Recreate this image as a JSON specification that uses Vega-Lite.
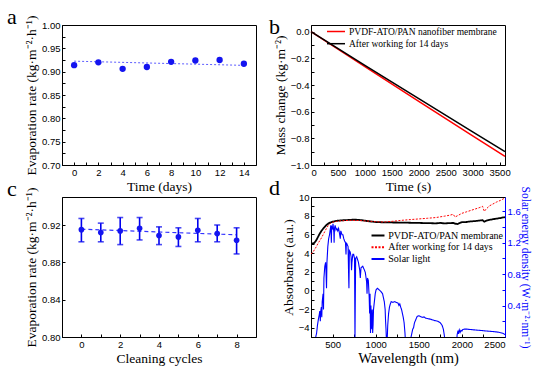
{
  "$schema": "https://vega.github.io/schema/vega-lite/v6.json",
  "background": "white",
  "padding": {"left": 6, "top": 5, "right": 5, "bottom": 5},
  "config": {
    "view": {"stroke": "black", "strokeWidth": 1},
    "axis": {"labelFont": "Liberation Sans", "labelFontSize": 9.5, "labelColor": "black", "titleFont": "Liberation Serif", "titleFontSize": 13.5, "titleFontWeight": "normal", "titleColor": "black", "domainColor": "black", "tickColor": "black", "tickSize": -3, "labelPadding": 5, "grid": false, "titlePadding": 3, "labelOverlap": false},
    "title": {"font": "Liberation Serif", "fontSize": 22, "fontWeight": "normal", "anchor": "start", "frame": "group", "offset": 0, "baseline": "alphabetic", "color": "black"},
    "legend": {"labelFont": "Liberation Serif", "labelColor": "black", "symbolType": "M-2,0H2", "padding": 0}
  },
  "datasets": {
    "aPts": [
      {"day": 0, "rate": 0.914}, {"day": 2, "rate": 0.920}, {"day": 4, "rate": 0.906}, {"day": 6, "rate": 0.910},
      {"day": 8, "rate": 0.921}, {"day": 10, "rate": 0.924}, {"day": 12, "rate": 0.925}, {"day": 14, "rate": 0.917}
    ],
    "aFit": [{"day": 0, "rate": 0.9225}, {"day": 14, "rate": 0.9135}],
    "bMass": [
      {"t": 0, "m": 0, "s": "PVDF-ATO/PAN nanofiber membrane"},
      {"t": 1000, "m": -0.262, "s": "PVDF-ATO/PAN nanofiber membrane"},
      {"t": 2000, "m": -0.522, "s": "PVDF-ATO/PAN nanofiber membrane"},
      {"t": 3000, "m": -0.781, "s": "PVDF-ATO/PAN nanofiber membrane"},
      {"t": 3600, "m": -0.935, "s": "PVDF-ATO/PAN nanofiber membrane"},
      {"t": 0, "m": 0, "s": "After working for 14 days"},
      {"t": 1000, "m": -0.252, "s": "After working for 14 days"},
      {"t": 2000, "m": -0.503, "s": "After working for 14 days"},
      {"t": 3000, "m": -0.752, "s": "After working for 14 days"},
      {"t": 3600, "m": -0.900, "s": "After working for 14 days"}
    ],
    "cPts": [
      {"cycle": 0, "rate": 0.915, "lo": 0.902, "hi": 0.927},
      {"cycle": 1, "rate": 0.912, "lo": 0.902, "hi": 0.922},
      {"cycle": 2, "rate": 0.9137, "lo": 0.899, "hi": 0.928},
      {"cycle": 3, "rate": 0.9164, "lo": 0.904, "hi": 0.928},
      {"cycle": 4, "rate": 0.9087, "lo": 0.899, "hi": 0.918},
      {"cycle": 5, "rate": 0.9072, "lo": 0.897, "hi": 0.917},
      {"cycle": 6, "rate": 0.9144, "lo": 0.902, "hi": 0.927},
      {"cycle": 7, "rate": 0.9108, "lo": 0.902, "hi": 0.920},
      {"cycle": 8, "rate": 0.9037, "lo": 0.889, "hi": 0.917}
    ],
    "cFit": [{"cycle": 0, "rate": 0.9155}, {"cycle": 8, "rate": 0.9095}],
    "dAbs": [
      {"wl": 250, "v": 5.05, "s": "PVDF-ATO/PAN  membrane"}, {"wl": 270, "v": 5.0, "s": "PVDF-ATO/PAN  membrane"},
      {"wl": 290, "v": 5.1, "s": "PVDF-ATO/PAN  membrane"}, {"wl": 310, "v": 5.35, "s": "PVDF-ATO/PAN  membrane"},
      {"wl": 330, "v": 5.7, "s": "PVDF-ATO/PAN  membrane"}, {"wl": 350, "v": 6.05, "s": "PVDF-ATO/PAN  membrane"},
      {"wl": 370, "v": 6.35, "s": "PVDF-ATO/PAN  membrane"}, {"wl": 390, "v": 6.6, "s": "PVDF-ATO/PAN  membrane"},
      {"wl": 410, "v": 6.8, "s": "PVDF-ATO/PAN  membrane"}, {"wl": 430, "v": 7.0, "s": "PVDF-ATO/PAN  membrane"},
      {"wl": 450, "v": 7.15, "s": "PVDF-ATO/PAN  membrane"}, {"wl": 470, "v": 7.25, "s": "PVDF-ATO/PAN  membrane"},
      {"wl": 500, "v": 7.35, "s": "PVDF-ATO/PAN  membrane"}, {"wl": 550, "v": 7.45, "s": "PVDF-ATO/PAN  membrane"},
      {"wl": 600, "v": 7.5, "s": "PVDF-ATO/PAN  membrane"}, {"wl": 650, "v": 7.52, "s": "PVDF-ATO/PAN  membrane"},
      {"wl": 700, "v": 7.55, "s": "PVDF-ATO/PAN  membrane"}, {"wl": 750, "v": 7.57, "s": "PVDF-ATO/PAN  membrane"},
      {"wl": 800, "v": 7.55, "s": "PVDF-ATO/PAN  membrane"}, {"wl": 850, "v": 7.5, "s": "PVDF-ATO/PAN  membrane"},
      {"wl": 900, "v": 7.43, "s": "PVDF-ATO/PAN  membrane"}, {"wl": 950, "v": 7.37, "s": "PVDF-ATO/PAN  membrane"},
      {"wl": 1000, "v": 7.32, "s": "PVDF-ATO/PAN  membrane"}, {"wl": 1100, "v": 7.28, "s": "PVDF-ATO/PAN  membrane"},
      {"wl": 1200, "v": 7.27, "s": "PVDF-ATO/PAN  membrane"}, {"wl": 1300, "v": 7.26, "s": "PVDF-ATO/PAN  membrane"},
      {"wl": 1400, "v": 7.24, "s": "PVDF-ATO/PAN  membrane"}, {"wl": 1500, "v": 7.22, "s": "PVDF-ATO/PAN  membrane"},
      {"wl": 1600, "v": 7.2, "s": "PVDF-ATO/PAN  membrane"}, {"wl": 1700, "v": 7.18, "s": "PVDF-ATO/PAN  membrane"},
      {"wl": 1750, "v": 7.22, "s": "PVDF-ATO/PAN  membrane"}, {"wl": 1800, "v": 7.17, "s": "PVDF-ATO/PAN  membrane"},
      {"wl": 1850, "v": 7.2, "s": "PVDF-ATO/PAN  membrane"}, {"wl": 1900, "v": 7.22, "s": "PVDF-ATO/PAN  membrane"},
      {"wl": 1920, "v": 7.15, "s": "PVDF-ATO/PAN  membrane"}, {"wl": 1950, "v": 7.1, "s": "PVDF-ATO/PAN  membrane"},
      {"wl": 1970, "v": 7.2, "s": "PVDF-ATO/PAN  membrane"}, {"wl": 2000, "v": 7.3, "s": "PVDF-ATO/PAN  membrane"},
      {"wl": 2050, "v": 7.32, "s": "PVDF-ATO/PAN  membrane"}, {"wl": 2100, "v": 7.38, "s": "PVDF-ATO/PAN  membrane"},
      {"wl": 2150, "v": 7.42, "s": "PVDF-ATO/PAN  membrane"}, {"wl": 2200, "v": 7.47, "s": "PVDF-ATO/PAN  membrane"},
      {"wl": 2240, "v": 7.52, "s": "PVDF-ATO/PAN  membrane"}, {"wl": 2260, "v": 7.35, "s": "PVDF-ATO/PAN  membrane"},
      {"wl": 2280, "v": 7.45, "s": "PVDF-ATO/PAN  membrane"}, {"wl": 2320, "v": 7.55, "s": "PVDF-ATO/PAN  membrane"},
      {"wl": 2360, "v": 7.62, "s": "PVDF-ATO/PAN  membrane"}, {"wl": 2400, "v": 7.68, "s": "PVDF-ATO/PAN  membrane"},
      {"wl": 2450, "v": 7.75, "s": "PVDF-ATO/PAN  membrane"}, {"wl": 2500, "v": 7.85, "s": "PVDF-ATO/PAN  membrane"},
      {"wl": 250, "v": 3.9, "s": "After working for 14 days"}, {"wl": 270, "v": 4.05, "s": "After working for 14 days"},
      {"wl": 290, "v": 4.35, "s": "After working for 14 days"}, {"wl": 310, "v": 4.65, "s": "After working for 14 days"},
      {"wl": 330, "v": 5.0, "s": "After working for 14 days"}, {"wl": 350, "v": 5.3, "s": "After working for 14 days"},
      {"wl": 370, "v": 5.6, "s": "After working for 14 days"}, {"wl": 390, "v": 5.95, "s": "After working for 14 days"},
      {"wl": 410, "v": 6.3, "s": "After working for 14 days"}, {"wl": 430, "v": 6.65, "s": "After working for 14 days"},
      {"wl": 450, "v": 6.95, "s": "After working for 14 days"}, {"wl": 470, "v": 7.15, "s": "After working for 14 days"},
      {"wl": 500, "v": 7.3, "s": "After working for 14 days"}, {"wl": 550, "v": 7.4, "s": "After working for 14 days"},
      {"wl": 600, "v": 7.45, "s": "After working for 14 days"}, {"wl": 700, "v": 7.5, "s": "After working for 14 days"},
      {"wl": 800, "v": 7.48, "s": "After working for 14 days"}, {"wl": 900, "v": 7.43, "s": "After working for 14 days"},
      {"wl": 1000, "v": 7.35, "s": "After working for 14 days"}, {"wl": 1100, "v": 7.32, "s": "After working for 14 days"},
      {"wl": 1200, "v": 7.4, "s": "After working for 14 days"}, {"wl": 1300, "v": 7.5, "s": "After working for 14 days"},
      {"wl": 1400, "v": 7.58, "s": "After working for 14 days"}, {"wl": 1500, "v": 7.65, "s": "After working for 14 days"},
      {"wl": 1600, "v": 7.72, "s": "After working for 14 days"}, {"wl": 1700, "v": 7.8, "s": "After working for 14 days"},
      {"wl": 1800, "v": 7.95, "s": "After working for 14 days"}, {"wl": 1860, "v": 8.05, "s": "After working for 14 days"},
      {"wl": 1900, "v": 8.15, "s": "After working for 14 days"}, {"wl": 1920, "v": 7.85, "s": "After working for 14 days"},
      {"wl": 1950, "v": 8.0, "s": "After working for 14 days"}, {"wl": 2000, "v": 8.25, "s": "After working for 14 days"},
      {"wl": 2050, "v": 8.4, "s": "After working for 14 days"}, {"wl": 2100, "v": 8.55, "s": "After working for 14 days"},
      {"wl": 2150, "v": 8.7, "s": "After working for 14 days"}, {"wl": 2200, "v": 8.85, "s": "After working for 14 days"},
      {"wl": 2240, "v": 9.0, "s": "After working for 14 days"}, {"wl": 2260, "v": 8.45, "s": "After working for 14 days"},
      {"wl": 2280, "v": 8.7, "s": "After working for 14 days"}, {"wl": 2320, "v": 9.05, "s": "After working for 14 days"},
      {"wl": 2360, "v": 9.25, "s": "After working for 14 days"}, {"wl": 2400, "v": 9.45, "s": "After working for 14 days"},
      {"wl": 2450, "v": 9.65, "s": "After working for 14 days"}, {"wl": 2500, "v": 9.9, "s": "After working for 14 days"}
    ],
    "dSolar": [
      {"wl": 300, "e": -0.05}, {"wl": 305, "e": 0.0}, {"wl": 315, "e": 0.05}, {"wl": 325, "e": 0.15}, {"wl": 335, "e": 0.22},
      {"wl": 345, "e": 0.28}, {"wl": 352, "e": 0.33}, {"wl": 358, "e": 0.2}, {"wl": 362, "e": 0.32}, {"wl": 370, "e": 0.38},
      {"wl": 375, "e": 0.25}, {"wl": 380, "e": 0.45}, {"wl": 390, "e": 0.55}, {"wl": 395, "e": 0.35}, {"wl": 400, "e": 0.75},
      {"wl": 410, "e": 0.9}, {"wl": 420, "e": 0.95}, {"wl": 425, "e": 0.8}, {"wl": 430, "e": 0.62}, {"wl": 435, "e": 0.95},
      {"wl": 445, "e": 1.15}, {"wl": 455, "e": 1.25}, {"wl": 465, "e": 1.3}, {"wl": 475, "e": 1.38}, {"wl": 480, "e": 1.42},
      {"wl": 486, "e": 1.2}, {"wl": 490, "e": 1.4}, {"wl": 500, "e": 1.38}, {"wl": 505, "e": 1.44}, {"wl": 515, "e": 1.33},
      {"wl": 518, "e": 1.2}, {"wl": 522, "e": 1.38}, {"wl": 530, "e": 1.42}, {"wl": 540, "e": 1.36}, {"wl": 550, "e": 1.38},
      {"wl": 560, "e": 1.35}, {"wl": 570, "e": 1.38}, {"wl": 580, "e": 1.32}, {"wl": 590, "e": 1.25}, {"wl": 595, "e": 1.35},
      {"wl": 610, "e": 1.3}, {"wl": 620, "e": 1.3}, {"wl": 630, "e": 1.25}, {"wl": 640, "e": 1.22}, {"wl": 650, "e": 1.2},
      {"wl": 656, "e": 1.05}, {"wl": 660, "e": 1.2}, {"wl": 680, "e": 1.15}, {"wl": 687, "e": 0.75}, {"wl": 690, "e": 0.62},
      {"wl": 695, "e": 1.1}, {"wl": 705, "e": 1.08}, {"wl": 715, "e": 1.02}, {"wl": 720, "e": 0.85}, {"wl": 725, "e": 0.95},
      {"wl": 735, "e": 1.05}, {"wl": 745, "e": 1.05}, {"wl": 755, "e": 1.0}, {"wl": 760, "e": -0.05}, {"wl": 763, "e": 0.4},
      {"wl": 768, "e": 1.0}, {"wl": 780, "e": 1.02}, {"wl": 800, "e": 0.95}, {"wl": 815, "e": 0.85}, {"wl": 822, "e": 0.75},
      {"wl": 830, "e": 0.88}, {"wl": 850, "e": 0.9}, {"wl": 870, "e": 0.85}, {"wl": 880, "e": 0.82}, {"wl": 895, "e": 0.7},
      {"wl": 900, "e": 0.55}, {"wl": 905, "e": 0.75}, {"wl": 915, "e": 0.72}, {"wl": 925, "e": 0.5}, {"wl": 930, "e": 0.3},
      {"wl": 935, "e": 0.55}, {"wl": 940, "e": 0.05}, {"wl": 945, "e": 0.4}, {"wl": 950, "e": 0.1}, {"wl": 955, "e": 0.2},
      {"wl": 960, "e": 0.35}, {"wl": 965, "e": 0.05}, {"wl": 970, "e": 0.15}, {"wl": 975, "e": 0.35}, {"wl": 985, "e": 0.45},
      {"wl": 995, "e": 0.55}, {"wl": 1005, "e": 0.6}, {"wl": 1020, "e": 0.62}, {"wl": 1040, "e": 0.6}, {"wl": 1060, "e": 0.58},
      {"wl": 1080, "e": 0.55}, {"wl": 1090, "e": 0.5}, {"wl": 1100, "e": 0.45}, {"wl": 1110, "e": 0.35}, {"wl": 1115, "e": 0.2},
      {"wl": 1120, "e": 0.1}, {"wl": 1125, "e": -0.05}, {"wl": 1135, "e": 0.0}, {"wl": 1140, "e": 0.15}, {"wl": 1150, "e": 0.3},
      {"wl": 1160, "e": 0.38}, {"wl": 1170, "e": 0.42}, {"wl": 1180, "e": 0.45}, {"wl": 1200, "e": 0.44}, {"wl": 1220, "e": 0.45},
      {"wl": 1240, "e": 0.44}, {"wl": 1260, "e": 0.43}, {"wl": 1270, "e": 0.4}, {"wl": 1280, "e": 0.42}, {"wl": 1290, "e": 0.38},
      {"wl": 1300, "e": 0.35}, {"wl": 1310, "e": 0.3}, {"wl": 1320, "e": 0.25}, {"wl": 1330, "e": 0.18}, {"wl": 1340, "e": 0.05},
      {"wl": 1345, "e": -0.05}, {"wl": 1400, "e": -0.05}, {"wl": 1410, "e": 0.0}, {"wl": 1420, "e": 0.05}, {"wl": 1430, "e": 0.1},
      {"wl": 1440, "e": 0.12}, {"wl": 1450, "e": 0.18}, {"wl": 1465, "e": 0.22}, {"wl": 1480, "e": 0.26}, {"wl": 1500, "e": 0.27},
      {"wl": 1520, "e": 0.26}, {"wl": 1540, "e": 0.25}, {"wl": 1560, "e": 0.255}, {"wl": 1580, "e": 0.24}, {"wl": 1600, "e": 0.235},
      {"wl": 1640, "e": 0.225}, {"wl": 1680, "e": 0.21}, {"wl": 1720, "e": 0.2}, {"wl": 1750, "e": 0.18}, {"wl": 1770, "e": 0.15},
      {"wl": 1785, "e": 0.1}, {"wl": 1795, "e": 0.03}, {"wl": 1805, "e": -0.05}, {"wl": 1940, "e": -0.05}, {"wl": 1945, "e": 0.03},
      {"wl": 1955, "e": 0.08}, {"wl": 1962, "e": 0.04}, {"wl": 1970, "e": 0.09}, {"wl": 1980, "e": 0.06}, {"wl": 1990, "e": 0.085},
      {"wl": 2000, "e": 0.075}, {"wl": 2010, "e": 0.095}, {"wl": 2030, "e": 0.1}, {"wl": 2060, "e": 0.1}, {"wl": 2100, "e": 0.095},
      {"wl": 2150, "e": 0.09}, {"wl": 2200, "e": 0.085}, {"wl": 2250, "e": 0.08}, {"wl": 2300, "e": 0.075}, {"wl": 2350, "e": 0.07},
      {"wl": 2400, "e": 0.065}, {"wl": 2450, "e": 0.055}, {"wl": 2480, "e": 0.045}, {"wl": 2500, "e": 0.03}
    ]
  },
  "columns": 2,
  "spacing": {"row": 32, "column": 55},
  "bounds": "flush",
  "resolve": {"scale": {"color": "independent", "strokeDash": "independent", "strokeWidth": "independent"}, "legend": {"color": "independent"}},
  "concat": [
    {
      "width": 194, "height": 140,
      "title": {"text": "a", "dx": -55, "dy": 18},
      "encoding": {
        "x": {"field": "day", "type": "quantitative", "scale": {"domain": [-1, 15], "nice": false, "zero": false},
          "axis": {"values": [0, 1, 2, 3, 4, 5, 6, 7, 8, 9, 10, 11, 12, 13, 14], "labelExpr": "datum.value % 2 == 0 ? datum.label : ''", "title": "Time (days)"}},
        "y": {"field": "rate", "type": "quantitative", "scale": {"domain": [0.7, 1.0], "nice": false, "zero": false},
          "axis": {"values": [0.7, 0.725, 0.75, 0.775, 0.8, 0.825, 0.85, 0.875, 0.9, 0.925, 0.95, 0.975, 1.0], "format": ".3f", "labelExpr": "round(datum.value * 1000) % 50 == 0 ? format(datum.value, '.2f') : ''", "title": "Evaporation rate (kg·m⁻²·h⁻¹)"}}
      },
      "layer": [
        {"data": {"name": "aFit"}, "mark": {"type": "line", "color": "#5c5cff", "strokeDash": [2, 2], "strokeWidth": 1}},
        {"data": {"name": "aPts"}, "mark": {"type": "point", "filled": true, "color": "#1414f0", "size": 40, "opacity": 1}}
      ]
    },
    {
      "width": 194, "height": 140,
      "title": {"text": "b", "dx": -42, "dy": 18},
      "data": {"name": "bMass"},
      "mark": {"type": "line", "strokeWidth": 1.5},
      "encoding": {
        "x": {"field": "t", "type": "quantitative", "scale": {"domain": [0, 3600], "nice": false},
          "axis": {"values": [0, 250, 500, 750, 1000, 1250, 1500, 1750, 2000, 2250, 2500, 2750, 3000, 3250, 3500], "format": "d", "labelExpr": "datum.value % 500 == 0 ? datum.label : ''", "title": "Time (s)"}},
        "y": {"field": "m", "type": "quantitative", "scale": {"domain": [-1.0, 0.05], "nice": false, "zero": false},
          "axis": {"values": [-1.0, -0.9, -0.8, -0.7, -0.6, -0.5, -0.4, -0.3, -0.2, -0.1, 0.0], "format": ".1f", "labelExpr": "abs(round(datum.value * 10)) % 2 == 0 ? datum.label : ''", "title": "Mass change (kg·m⁻²)"}},
        "color": {"field": "s", "type": "nominal", "sort": null, "scale": {"domain": ["PVDF-ATO/PAN nanofiber membrane", "After working for 14 days"], "range": ["#ff0000", "#000000"]},
          "legend": {"orient": "none", "legendX": 19.5, "legendY": 1, "title": null, "symbolSize": 81, "symbolStrokeWidth": 1.5, "labelFontSize": 9.5, "labelOffset": 7.5, "rowPadding": 2.2}}
      }
    },
    {
      "width": 194, "height": 140,
      "title": {"text": "c", "dx": -55, "dy": 18},
      "encoding": {
        "x": {"field": "cycle", "type": "quantitative", "scale": {"domain": [-1, 9], "nice": false, "zero": false},
          "axis": {"values": [0, 1, 2, 3, 4, 5, 6, 7, 8], "labelExpr": "datum.value % 2 == 0 ? datum.label : ''", "title": "Cleaning cycles"}}
      },
      "layer": [
        {"data": {"name": "cFit"}, "mark": {"type": "line", "color": "#3333ff", "strokeDash": [4, 3], "strokeWidth": 1.2},
          "encoding": {"y": {"field": "rate", "type": "quantitative", "scale": {"domain": [0.8, 0.95], "nice": false, "zero": false},
            "axis": {"values": [0.8, 0.82, 0.84, 0.86, 0.88, 0.9, 0.92, 0.94], "labelExpr": "round(datum.value * 100) % 4 == 0 ? format(datum.value, '.2f') : ''", "title": "Evaporation rate (kg·m⁻²·h⁻¹)"}}}},
        {"data": {"name": "cPts"}, "mark": {"type": "errorbar", "color": "#0000ee", "thickness": 1.6, "ticks": {"size": 6, "color": "#0000ee", "strokeWidth": 1.2}},
          "encoding": {"y": {"field": "lo", "type": "quantitative", "title": "Evaporation rate (kg·m⁻²·h⁻¹)"}, "y2": {"field": "hi"}}},
        {"data": {"name": "cPts"}, "mark": {"type": "point", "filled": true, "color": "#1414f0", "size": 32, "opacity": 1},
          "encoding": {"y": {"field": "rate", "type": "quantitative", "title": "Evaporation rate (kg·m⁻²·h⁻¹)"}}}
      ]
    },
    {
      "width": 194, "height": 140,
      "title": {"text": "d", "dx": -42, "dy": 18},
      "encoding": {
        "x": {"field": "wl", "type": "quantitative", "scale": {"domain": [250, 2500], "nice": false, "zero": false},
          "axis": {"values": [250, 500, 750, 1000, 1250, 1500, 1750, 2000, 2250, 2500], "format": "d", "labelExpr": "datum.value % 500 == 0 ? datum.label : ''", "title": "Wavelength (nm)", "titleFontSize": 14.5}}
      },
      "layer": [
        {"data": {"name": "dSolar"}, "transform": [{"calculate": "'Solar light'", "as": "s"}],
          "mark": {"type": "line", "strokeWidth": 1.1, "clip": true, "strokeDash": [1, 0]},
          "encoding": {
            "y": {"field": "e", "type": "quantitative", "scale": {"domain": [0, 1.78], "nice": false, "zero": false},
              "axis": {"orient": "right", "values": [0.2, 0.4, 0.6, 0.8, 1.0, 1.2, 1.4, 1.6], "format": ".1f", "labelExpr": "round(datum.value * 10) % 4 == 0 ? datum.label : ''", "title": "Solar energy density (W·m⁻²·nm⁻¹)", "titleFontSize": 11.5, "titlePadding": -1, "labelColor": "#0000ff", "titleColor": "#0000ff", "domainColor": "#0000ff", "tickColor": "#0000ff"}},
            "color": {"field": "s", "type": "nominal"}
          }},
        {"data": {"name": "dAbs"}, "mark": {"type": "line", "clip": true},
          "encoding": {
            "y": {"field": "v", "type": "quantitative", "scale": {"domain": [-5, 10], "nice": false, "zero": false},
              "axis": {"orient": "left", "values": [-5, -4, -3, -2, -1, 0, 1, 2, 3, 4, 5, 6, 7, 8, 9, 10], "labelExpr": "datum.value % 2 == 0 ? datum.label : ''", "title": "Absorbance (a.u.)"}},
            "color": {"field": "s", "type": "nominal", "sort": null,
              "scale": {"domain": ["PVDF-ATO/PAN  membrane", "After working for 14 days", "Solar light"], "range": ["#000000", "#ff0000", "#0000ff"]},
              "legend": {"orient": "none", "legendX": 62, "legendY": 33.5, "title": null, "symbolSize": 42, "symbolStrokeWidth": 2, "labelFontSize": 10, "labelOffset": 5.3, "rowPadding": 1.8,
                "encode": {"symbols": {"update": {"strokeDash": {"signal": "datum.label == 'After working for 14 days' ? [2, 1.5] : [1, 0]"}}}}}},
            "strokeDash": {"field": "s", "type": "nominal", "scale": {"domain": ["PVDF-ATO/PAN  membrane", "After working for 14 days"], "range": [[1, 0], [2, 1.5]]}, "legend": null},
            "strokeWidth": {"field": "s", "type": "nominal", "scale": {"domain": ["PVDF-ATO/PAN  membrane", "After working for 14 days"], "range": [1.8, 1]}, "legend": null}
          }}
      ],
      "resolve": {"scale": {"y": "independent", "strokeDash": "independent", "strokeWidth": "independent"}}
    }
  ]
}
